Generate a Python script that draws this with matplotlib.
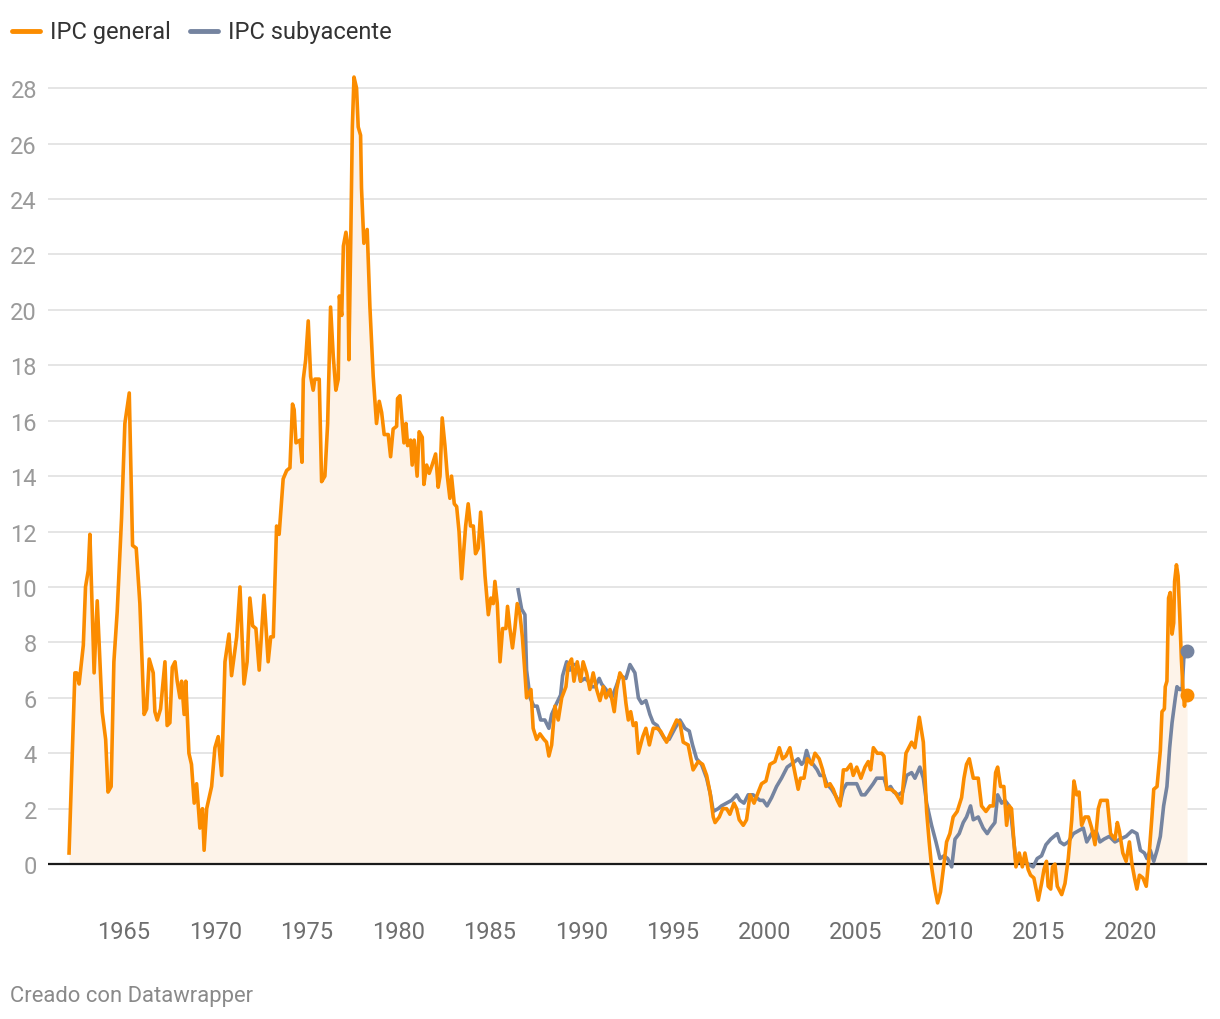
import matplotlib
matplotlib.use("Agg")
import matplotlib.pyplot as plt
from matplotlib.lines import Line2D

# IPC general (tasa interanual, %) - fecha en años decimales
gen_t = [1962.0, 1962.32, 1962.42, 1962.55, 1962.78, 1962.9, 1963.05, 1963.14, 1963.37, 1963.54,
         1963.81, 1964.0, 1964.13, 1964.3, 1964.45, 1964.63, 1964.87, 1965.05, 1965.29, 1965.47,
         1965.67, 1965.87, 1966.1, 1966.24, 1966.38, 1966.6, 1966.69, 1966.82, 1967.0, 1967.24,
         1967.36, 1967.51, 1967.64, 1967.79, 1967.91, 1968.06, 1968.15, 1968.29, 1968.38, 1968.55,
         1968.69, 1968.84, 1968.97, 1969.15, 1969.29, 1969.38, 1969.52, 1969.79, 1969.97, 1970.15,
         1970.34, 1970.52, 1970.74, 1970.88, 1971.16, 1971.34, 1971.56, 1971.73, 1971.88, 1972.03,
         1972.21, 1972.39, 1972.65, 1972.88, 1973.02, 1973.16, 1973.34, 1973.48, 1973.7, 1973.89,
         1974.07, 1974.21, 1974.3, 1974.4, 1974.62, 1974.73, 1974.8, 1974.93, 1975.07, 1975.2,
         1975.34, 1975.43, 1975.67, 1975.8, 1975.98, 1976.13, 1976.29, 1976.44, 1976.58, 1976.71,
         1976.77, 1976.9, 1976.99, 1977.13, 1977.22, 1977.29, 1977.39, 1977.48, 1977.57, 1977.71,
         1977.8, 1977.93, 1977.98, 1978.11, 1978.29, 1978.44, 1978.62, 1978.8, 1978.95, 1979.08,
         1979.22, 1979.44, 1979.57, 1979.71, 1979.9, 1979.95, 1980.08, 1980.3, 1980.41, 1980.5,
         1980.66, 1980.75, 1980.86, 1981.02, 1981.13, 1981.3, 1981.39, 1981.54, 1981.68, 1981.84,
         1982.03, 1982.17, 1982.27, 1982.39, 1982.54, 1982.67, 1982.81, 1982.9, 1983.05, 1983.18,
         1983.31, 1983.45, 1983.67, 1983.81, 1983.94, 1984.09, 1984.21, 1984.36, 1984.49, 1984.63,
         1984.73, 1984.91, 1985.05, 1985.18, 1985.27, 1985.4, 1985.55, 1985.69, 1985.87, 1985.96,
         1986.09, 1986.23, 1986.36, 1986.49, 1986.64, 1986.77, 1986.91, 1987.0, 1987.24, 1987.36,
         1987.55, 1987.73, 1987.95, 1988.09, 1988.22, 1988.37, 1988.55, 1988.73, 1988.92, 1989.15,
         1989.28, 1989.46, 1989.59, 1989.77, 1989.95, 1990.09, 1990.28, 1990.46, 1990.64, 1990.83,
         1991.01, 1991.19, 1991.34, 1991.56, 1991.79, 1991.92, 1992.1, 1992.28, 1992.43, 1992.56,
         1992.69, 1992.83, 1992.98, 1993.11, 1993.35, 1993.52, 1993.71, 1993.92, 1994.14, 1994.32,
         1994.65, 1994.92, 1995.2, 1995.38, 1995.56, 1995.83, 1996.1, 1996.38, 1996.62, 1996.84,
         1997.02, 1997.2, 1997.3, 1997.53, 1997.72, 1997.93, 1998.11, 1998.33, 1998.48, 1998.62,
         1998.84, 1999.02, 1999.21, 1999.43, 1999.66, 1999.84, 2000.08, 2000.3, 2000.57, 2000.81,
         2000.99, 2001.17, 2001.39, 2001.63, 2001.84, 2001.97, 2002.16, 2002.34, 2002.58, 2002.76,
         2002.99, 2003.18, 2003.36, 2003.58, 2003.76, 2003.98, 2004.13, 2004.31, 2004.49, 2004.71,
         2004.85, 2005.04, 2005.27, 2005.49, 2005.67, 2005.8, 2005.95, 2006.16, 2006.4, 2006.53,
         2006.68, 2006.89, 2007.13, 2007.31, 2007.49, 2007.73, 2008.04, 2008.22, 2008.46, 2008.68,
         2008.86, 2009.0, 2009.13, 2009.31, 2009.46, 2009.62, 2009.77, 2009.95, 2010.13, 2010.31,
         2010.53, 2010.77, 2010.9, 2011.04, 2011.19, 2011.41, 2011.68, 2011.86, 2012.1, 2012.32,
         2012.5, 2012.63, 2012.74, 2012.9, 2013.08, 2013.23, 2013.37, 2013.5, 2013.63, 2013.74,
         2013.92, 2014.09, 2014.23, 2014.41, 2014.54, 2014.72, 2014.96, 2015.14, 2015.27, 2015.41,
         2015.5, 2015.64, 2015.74, 2015.87, 2016.0, 2016.24, 2016.42, 2016.6, 2016.79, 2016.91,
         2017.06, 2017.19, 2017.33, 2017.51, 2017.7, 2017.88, 2018.06, 2018.24, 2018.37, 2018.55,
         2018.73, 2018.91, 2019.15, 2019.28, 2019.39, 2019.58, 2019.76, 2019.94, 2020.08, 2020.22,
         2020.35, 2020.49, 2020.68, 2020.86, 2020.99, 2021.17, 2021.27, 2021.45, 2021.63, 2021.72,
         2021.85, 2021.9, 2021.99, 2022.08, 2022.17, 2022.27, 2022.36, 2022.41, 2022.51, 2022.6,
         2022.69, 2022.78, 2022.87, 2022.95, 2023.0, 2023.09]
gen_v = [0.4, 6.9, 6.9, 6.5, 7.9, 10.0, 10.6, 11.9, 6.9, 9.5,
         5.5, 4.5, 2.6, 2.8, 7.3, 9.1, 12.5, 15.9, 17.0, 11.5,
         11.4, 9.4, 5.4, 5.6, 7.4, 6.9, 5.5, 5.2, 5.6, 7.3,
         5.0, 5.1, 7.1, 7.3, 6.6, 6.0, 6.6, 5.4, 6.6, 4.0,
         3.6, 2.2, 2.9, 1.3, 2.0, 0.5, 2.0, 2.8, 4.2, 4.6,
         3.2, 7.3, 8.3, 6.8, 8.2, 10.0, 6.5, 7.3, 9.6, 8.6,
         8.5, 7.0, 9.7, 7.3, 8.2, 8.2, 12.2, 11.9, 13.9, 14.2,
         14.3, 16.6, 16.4, 15.2, 15.3, 14.5, 17.5, 18.2, 19.6, 17.6,
         17.1, 17.5, 17.5, 13.8, 14.0, 15.9, 20.1, 18.3, 17.1, 17.5,
         20.5, 19.8, 22.3, 22.8, 22.4, 18.2, 22.4, 26.6, 28.4, 28.0,
         26.6, 26.3, 24.4, 22.4, 22.9, 20.1, 17.6, 15.9, 16.7, 16.3,
         15.5, 15.5, 14.7, 15.7, 15.8, 16.8, 16.9, 15.2, 15.9, 15.1,
         15.3, 14.4, 15.3, 14.0, 15.6, 15.4, 13.7, 14.4, 14.1, 14.4,
         14.8, 13.6, 14.0, 16.1, 15.1, 14.0, 13.2, 14.0, 13.0, 12.9,
         12.0, 10.3, 12.2, 13.0, 12.2, 12.2, 11.2, 11.4, 12.7, 11.5,
         10.4, 9.0, 9.6, 9.4, 10.2, 9.4, 7.3, 8.5, 8.5, 9.3,
         8.5, 7.8, 8.5, 9.4, 9.0, 8.2, 6.9, 6.0, 6.3, 4.9,
         4.5, 4.7, 4.5, 4.4, 3.9, 4.3, 5.7, 5.2, 6.0, 6.4,
         7.2, 7.4, 6.6, 7.3, 6.6, 7.3, 6.9, 6.3, 6.9, 6.3,
         5.9, 6.4, 6.0, 6.3, 5.5, 6.3, 6.9, 6.7, 5.8, 5.2,
         5.5, 5.0, 5.1, 4.0, 4.6, 4.9, 4.3, 4.9, 4.9, 4.8,
         4.4, 4.8, 5.2, 5.1, 4.4, 4.3, 3.4, 3.7, 3.6, 3.2,
         2.6, 1.7, 1.5, 1.7, 2.0, 2.0, 1.8, 2.2, 2.0, 1.6,
         1.4, 1.6, 2.5, 2.2, 2.6, 2.9, 3.0, 3.6, 3.7, 4.2,
         3.8, 3.9, 4.2, 3.4, 2.7, 3.1, 3.1, 3.8, 3.6, 4.0,
         3.8, 3.4, 2.8, 2.9, 2.7, 2.3, 2.1, 3.4, 3.4, 3.6,
         3.2, 3.5, 3.1, 3.5, 3.7, 3.4, 4.2, 4.0, 4.0, 3.9,
         2.7, 2.7, 2.6, 2.4, 2.2, 4.0, 4.4, 4.2, 5.3, 4.4,
         1.9, 0.8, -0.1, -0.9, -1.4, -1.0, -0.2, 0.8, 1.1, 1.7,
         1.9, 2.4, 3.1, 3.6, 3.8, 3.1, 3.1, 2.1, 1.9, 2.1,
         2.1, 3.3, 3.5, 2.8, 2.8, 1.4, 2.1, 2.0, 0.8, -0.1,
         0.4, -0.1, 0.4, -0.2, -0.4, -0.5, -1.3, -0.7, -0.2, 0.1,
         -0.8, -0.9, -0.1, 0.0, -0.8, -1.1, -0.7, 0.2, 1.6, 3.0,
         2.5, 2.6, 1.4, 1.7, 1.7, 1.3, 0.7, 2.0, 2.3, 2.3,
         2.3, 1.1, 0.9, 1.5, 1.2, 0.4, 0.1, 0.8, 0.0, -0.5,
         -0.9, -0.4, -0.5, -0.8, 0.1, 1.7, 2.7, 2.8, 4.1, 5.5,
         5.6, 6.4, 6.6, 9.6, 9.8, 8.3, 8.7, 10.2, 10.8, 10.4,
         9.0, 7.4, 6.3, 5.7, 6.1, 6.1]

# IPC subyacente
core_t = [1986.54, 1986.73, 1986.91, 1987.0, 1987.19, 1987.4, 1987.58, 1987.77, 1988.0, 1988.22,
          1988.37, 1988.64, 1988.86, 1988.97, 1989.19, 1989.37, 1989.55, 1989.77, 1989.95, 1990.19,
          1990.37, 1990.55, 1990.74, 1990.97, 1991.1, 1991.34, 1991.65, 1991.89, 1992.1, 1992.43,
          1992.65, 1992.92, 1993.11, 1993.29, 1993.52, 1993.74, 1993.92, 1994.14, 1994.29, 1994.56,
          1994.79, 1995.11, 1995.38, 1995.65, 1995.89, 1996.07, 1996.29, 1996.56, 1996.84, 1997.05,
          1997.2, 1997.47, 1997.65, 1997.93, 1998.2, 1998.48, 1998.66, 1998.88, 1999.11, 1999.38,
          1999.75, 1999.93, 2000.14, 2000.39, 2000.66, 2000.93, 2001.24, 2001.66, 2001.84, 2002.03,
          2002.16, 2002.3, 2002.48, 2002.66, 2002.88, 2003.03, 2003.25, 2003.4, 2003.67, 2003.95,
          2004.13, 2004.31, 2004.49, 2004.77, 2005.04, 2005.3, 2005.49, 2005.72, 2005.94, 2006.13,
          2006.31, 2006.53, 2006.71, 2006.89, 2007.07, 2007.31, 2007.55, 2007.77, 2008.04, 2008.22,
          2008.49, 2008.68, 2008.86, 2009.13, 2009.37, 2009.59, 2009.81, 2010.01, 2010.23, 2010.41,
          2010.64, 2010.86, 2011.04, 2011.26, 2011.41, 2011.68, 2011.95, 2012.17, 2012.36, 2012.59,
          2012.74, 2012.96, 2013.14, 2013.37, 2013.5, 2013.63, 2013.74, 2013.96, 2014.18, 2014.41,
          2014.68, 2014.9, 2015.14, 2015.38, 2015.64, 2015.82, 2016.0, 2016.15, 2016.37, 2016.6,
          2016.88, 2017.15, 2017.42, 2017.61, 2017.88, 2018.12, 2018.33, 2018.55, 2018.84, 2019.15,
          2019.43, 2019.76, 2020.08, 2020.35, 2020.54, 2020.76, 2020.9, 2021.08, 2021.27, 2021.45,
          2021.63, 2021.81, 2021.99, 2022.14, 2022.27, 2022.45, 2022.54, 2022.69, 2022.82, 2022.91,
          2023.0, 2023.09]
core_v = [9.9, 9.2, 9.0, 7.0, 6.0, 5.7, 5.7, 5.2, 5.2, 4.9,
          5.4, 5.8, 6.1, 6.8, 7.3, 7.0, 7.2, 7.2, 6.6, 6.7,
          6.6, 6.4, 6.4, 6.7, 6.5, 6.3, 6.0, 6.4, 6.8, 6.7,
          7.2, 6.9, 6.0, 5.8, 5.9, 5.4, 5.1, 5.0, 4.8, 4.5,
          4.5, 4.9, 5.2, 4.9, 4.8, 4.3, 3.8, 3.6, 3.1, 2.5,
          1.9, 2.0, 2.1, 2.2, 2.3, 2.5, 2.3, 2.2, 2.5, 2.5,
          2.3, 2.3, 2.1, 2.4, 2.8, 3.1, 3.5, 3.7, 3.8, 3.6,
          3.7, 4.1, 3.7, 3.6, 3.4, 3.2, 3.2, 2.9, 2.7, 2.4,
          2.2, 2.7, 2.9, 2.9, 2.9, 2.5, 2.5, 2.7, 2.9, 3.1,
          3.1, 3.1, 2.7, 2.8, 2.6, 2.5, 2.6, 3.2, 3.3, 3.1,
          3.5, 3.1, 2.2, 1.4, 0.8, 0.2, 0.3, 0.2, -0.1, 0.9,
          1.1, 1.5, 1.7, 2.1, 1.6, 1.7, 1.3, 1.1, 1.3, 1.5,
          2.5, 2.2, 2.3, 2.1, 1.6, 0.8, 0.1, 0.1, 0.1, 0.0,
          -0.1, 0.2, 0.3, 0.7, 0.9, 1.0, 1.1, 0.8, 0.7, 0.8,
          1.1, 1.2, 1.3, 0.8, 1.1, 1.2, 0.8, 0.9, 1.0, 0.8,
          0.9, 1.0, 1.2, 1.1, 0.5, 0.4, 0.2, 0.5, 0.1, 0.5,
          1.0, 2.1, 2.8, 4.2, 5.1, 6.0, 6.4, 6.3, 6.3, 7.4,
          7.6, 7.7]

year_ticks = [1965, 1970, 1975, 1980, 1985, 1990, 1995, 2000, 2005, 2010, 2015, 2020]
y_ticks = list(range(0, 29, 2))

ORANGE = "#fb8c00"
GRAY = "#7584a0"
FILL = "#fdf3e9"

plt.rcParams["font.family"] = ["Roboto", "DejaVu Sans"]

W, H = 1220, 1020
fig = plt.figure(figsize=(W / 100, H / 100), dpi=100)
ax = fig.add_axes([48 / W, 1 - 910 / H, (1207 - 48) / W, (910 - 75) / H])

ax.fill_between(gen_t, gen_v, 0, color=FILL, lw=0, zorder=1)
ax.axhline(0, color="#1a1a1a", lw=1.6, zorder=2)
ax.plot(core_t, core_v, color=GRAY, lw=2.6, solid_joinstyle="round", zorder=3)
ax.plot(gen_t, gen_v, color=ORANGE, lw=2.6, solid_joinstyle="round", zorder=4)
ax.plot(core_t[-1], core_v[-1], "o", color=GRAY, ms=9, zorder=5)
ax.plot(gen_t[-1], gen_v[-1], "o", color=ORANGE, ms=9, zorder=5)

ax.set_xlim(1960.85, 2024.18)
ax.set_ylim(-1.62, 28.51)
ax.set_yticks(y_ticks)
ax.set_yticklabels([str(v) for v in y_ticks])
ax.set_xticks(year_ticks)
ax.set_xticklabels([str(v) for v in year_ticks])
ax.grid(axis="y", color="#e3e3e3", lw=1.3, zorder=0)
ax.set_axisbelow(True)
ax.tick_params(axis="both", length=0, labelsize=17)
ax.tick_params(axis="y", pad=8, labelcolor="#9a9a9a")
ax.tick_params(axis="x", pad=8, labelcolor="#6e6e6e")
for s in ax.spines.values():
    s.set_visible(False)

# leyenda
fig.add_artist(Line2D([12 / W, 40 / W], [1 - 32 / H, 1 - 32 / H], color=ORANGE, lw=3.5,
                      solid_capstyle="round", transform=fig.transFigure))
fig.text(50 / W, 1 - 32 / H, "IPC general", fontsize=17, color="#333333", va="center")
fig.add_artist(Line2D([190 / W, 218 / W], [1 - 32 / H, 1 - 32 / H], color=GRAY, lw=3.5,
                      solid_capstyle="round", transform=fig.transFigure))
fig.text(228 / W, 1 - 32 / H, "IPC subyacente", fontsize=17, color="#333333", va="center")

fig.text(10 / W, 1 - 997 / H, "Creado con Datawrapper", fontsize=15.8, color="#8a8a8a", va="center")

fig.savefig("out.png", dpi=100)
